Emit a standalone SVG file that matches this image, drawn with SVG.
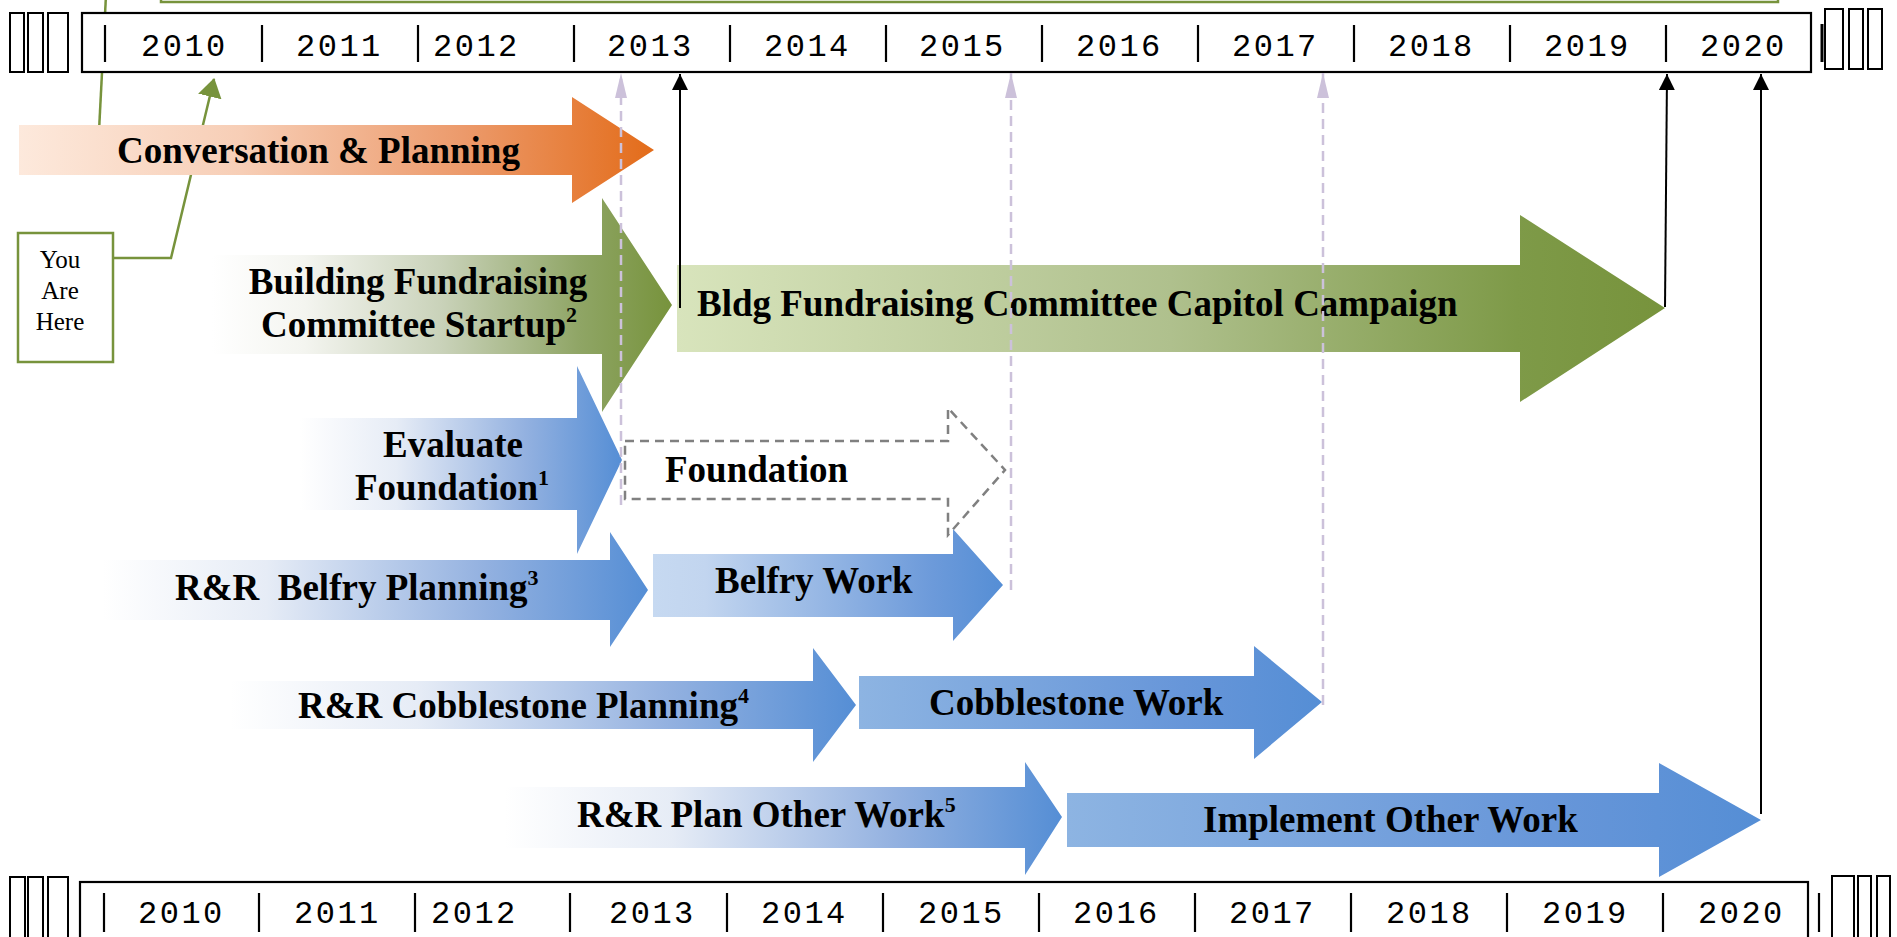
<svg xmlns="http://www.w3.org/2000/svg" width="1897" height="937" viewBox="0 0 1897 937">
<style>
.yr{font-family:"Liberation Mono","DejaVu Sans Mono",monospace;font-size:32px;letter-spacing:2.5px;fill:#000}
.tk{stroke:#000;stroke-width:2.2}
.box{fill:#fff;stroke:#000;stroke-width:2.2}
.sq{fill:#fff;stroke:#000;stroke-width:2}
.lbl{font-family:"Liberation Serif","Times New Roman",serif;font-weight:bold;font-size:37px;fill:#000}
.sup{font-size:22px}
.dash{stroke:#CCC1DA;stroke-width:2.5;stroke-dasharray:10 6;fill:none}
.blk{stroke:#000;stroke-width:2;fill:none}
.grn{stroke:#77933C;stroke-width:2.5;fill:none}
</style>
<defs>
<linearGradient id="gOr" x1="0" y1="0" x2="1" y2="0">
<stop offset="0" stop-color="#FDE9DC"/><stop offset="0.35" stop-color="#F7CEB6"/><stop offset="0.7" stop-color="#EC9A6B"/><stop offset="1" stop-color="#E36C1A"/>
</linearGradient>
<linearGradient id="gGr1" x1="0" y1="0" x2="1" y2="0">
<stop offset="0" stop-color="#FFFFFF"/><stop offset="0.2" stop-color="#F4F5F0"/><stop offset="0.5" stop-color="#C9D2B9"/><stop offset="0.8" stop-color="#8FA565"/><stop offset="1" stop-color="#77933C"/>
</linearGradient>
<linearGradient id="gGr2" x1="0" y1="0" x2="1" y2="0">
<stop offset="0" stop-color="#D8E4BC"/><stop offset="0.5" stop-color="#AFC08D"/><stop offset="0.85" stop-color="#7E9A48"/><stop offset="1" stop-color="#77933C"/>
</linearGradient>
<linearGradient id="gBl1" x1="0" y1="0" x2="1" y2="0">
<stop offset="0" stop-color="#FFFFFF"/><stop offset="0.3" stop-color="#E6ECF6"/><stop offset="0.7" stop-color="#93B1E0"/><stop offset="1" stop-color="#558ED5"/>
</linearGradient>
<linearGradient id="gBl2" x1="0" y1="0" x2="1" y2="0">
<stop offset="0" stop-color="#C6D9F1"/><stop offset="0.15" stop-color="#C2D5EF"/><stop offset="0.8" stop-color="#6C9ADA"/><stop offset="1" stop-color="#558ED5"/>
</linearGradient>
<linearGradient id="gBl3" x1="0" y1="0" x2="1" y2="0">
<stop offset="0" stop-color="#8DB4E2"/><stop offset="0.7" stop-color="#6796D9"/><stop offset="1" stop-color="#558ED5"/>
</linearGradient>
<marker id="mBlk" markerUnits="userSpaceOnUse" markerWidth="16" markerHeight="16" viewBox="0 0 16 16" refX="16" refY="8" orient="auto">
<path d="M0,0 L16,8 L0,16 Z" fill="#000"/>
</marker>
<marker id="mLav" markerUnits="userSpaceOnUse" markerWidth="25" markerHeight="12" viewBox="0 0 25 12" refX="25" refY="6" orient="auto">
<path d="M0,0 L25,6 L0,12 Z" fill="#CCC1DA"/>
</marker>
<marker id="mGrn" markerUnits="userSpaceOnUse" markerWidth="19" markerHeight="24" viewBox="0 0 19 24" refX="18" refY="12" orient="auto">
<path d="M0,0 L19,12 L0,24 Z" fill="#77933C"/>
</marker>
</defs>
<rect width="1897" height="937" fill="#fff"/>

<g id="connectors-back">
<rect x="161" y="-30" width="1617" height="32" class="grn"/>
<line x1="97" y1="170" x2="106" y2="-5" class="grn"/>
<polyline points="113,258 171,258 214,79" class="grn" marker-end="url(#mGrn)"/>
</g>

<g id="timeline-top">
<rect x="10" y="13" width="14" height="59" class="sq"/>
<rect x="28" y="13" width="15" height="59" class="sq"/>
<rect x="48" y="13" width="20" height="59" class="sq"/>
<rect x="82" y="13" width="1729" height="59" class="box"/>
<g class="tk">
<line x1="105" y1="25" x2="105" y2="62"/><line x1="262" y1="25" x2="262" y2="62"/><line x1="418" y1="25" x2="418" y2="62"/><line x1="574" y1="25" x2="574" y2="62"/><line x1="730" y1="25" x2="730" y2="62"/><line x1="886" y1="25" x2="886" y2="62"/><line x1="1042" y1="25" x2="1042" y2="62"/><line x1="1198" y1="25" x2="1198" y2="62"/><line x1="1354" y1="25" x2="1354" y2="62"/><line x1="1510" y1="25" x2="1510" y2="62"/><line x1="1666" y1="25" x2="1666" y2="62"/>
<line x1="1822" y1="24" x2="1822" y2="62" stroke-width="3"/>
</g>
<text class="yr" y="56"><tspan x="141">2010</tspan><tspan x="296">2011</tspan><tspan x="433">2012</tspan><tspan x="607">2013</tspan><tspan x="764">2014</tspan><tspan x="919">2015</tspan><tspan x="1076">2016</tspan><tspan x="1232">2017</tspan><tspan x="1388">2018</tspan><tspan x="1544">2019</tspan><tspan x="1700">2020</tspan></text>
<rect x="1825" y="9" width="18" height="60" class="sq"/>
<rect x="1849" y="9" width="14" height="60" class="sq"/>
<rect x="1868" y="9" width="14" height="60" class="sq"/>
</g>

<g id="timeline-bottom">
<rect x="10" y="877" width="15" height="70" class="sq"/>
<rect x="28" y="877" width="15" height="70" class="sq"/>
<rect x="48" y="877" width="20" height="70" class="sq"/>
<rect x="80" y="882" width="1728" height="70" class="box"/>
<g class="tk">
<line x1="104" y1="893" x2="104" y2="932"/><line x1="259" y1="893" x2="259" y2="932"/><line x1="415" y1="893" x2="415" y2="932"/><line x1="570" y1="893" x2="570" y2="932"/><line x1="727" y1="893" x2="727" y2="932"/><line x1="883" y1="893" x2="883" y2="932"/><line x1="1039" y1="893" x2="1039" y2="932"/><line x1="1195" y1="893" x2="1195" y2="932"/><line x1="1351" y1="893" x2="1351" y2="932"/><line x1="1507" y1="893" x2="1507" y2="932"/><line x1="1663" y1="893" x2="1663" y2="932"/>
<line x1="1819" y1="893" x2="1819" y2="932"/>
</g>
<text class="yr" y="923"><tspan x="138">2010</tspan><tspan x="294">2011</tspan><tspan x="431">2012</tspan><tspan x="609">2013</tspan><tspan x="761">2014</tspan><tspan x="918">2015</tspan><tspan x="1073">2016</tspan><tspan x="1229">2017</tspan><tspan x="1386">2018</tspan><tspan x="1542">2019</tspan><tspan x="1698">2020</tspan></text>
<rect x="1832" y="876" width="22" height="70" class="sq"/>
<rect x="1858" y="876" width="13" height="70" class="sq"/>
<rect x="1877" y="876" width="13" height="70" class="sq"/>
</g>

<g id="you-are-here">
<rect x="18" y="233" width="95" height="129" fill="#fff" stroke="#77933C" stroke-width="2.5"/>
<text font-family="Liberation Serif,'Times New Roman',serif" font-size="25" text-anchor="middle" fill="#000"><tspan x="60" y="268">You</tspan><tspan x="60" y="299">Are</tspan><tspan x="60" y="330">Here</tspan></text>
</g>

<g id="conversation-planning">
<path d="M19,125 H572 V97 L654,150 L572,203 V175 H19 Z" fill="url(#gOr)"/>
<text class="lbl" x="117" y="163">Conversation &amp; Planning</text>
</g>

<g id="fundraising-startup">
<path d="M212,255 H602 V198 L672,305 L602,412 V354 H212 Z" fill="url(#gGr1)"/>
<text class="lbl" text-anchor="middle"><tspan x="418" y="294">Building Fundraising</tspan><tspan x="419" y="337">Committee Startup<tspan class="sup" dy="-15">2</tspan></tspan></text>
</g>

<g id="capitol-campaign">
<path d="M677,265 H1520 V215 L1665,308 L1520,402 V352 H677 Z" fill="url(#gGr2)"/>
<text class="lbl" x="697" y="316">Bldg Fundraising Committee Capitol Campaign</text>
</g>

<g id="evaluate-foundation">
<path d="M300,418 H577 V366 L622,460 L577,554 V510 H300 Z" fill="url(#gBl1)"/>
<text class="lbl" text-anchor="middle"><tspan x="453" y="457">Evaluate</tspan><tspan x="452" y="500">Foundation<tspan class="sup" dy="-15">1</tspan></tspan></text>
</g>

<g id="foundation">
<path d="M625,441 H948 V408 L1005,470 L948,535 V499 H625 Z" fill="#fff" stroke="#808080" stroke-width="2.5" stroke-dasharray="9 6"/>
<text class="lbl" x="665" y="482">Foundation</text>
</g>

<g id="belfry-planning">
<path d="M103,560 H610 V532 L648,590 L610,647 V620 H103 Z" fill="url(#gBl1)"/>
<text class="lbl" x="175" y="600" xml:space="preserve">R&amp;R  Belfry Planning<tspan class="sup" dy="-15">3</tspan></text>
</g>

<g id="belfry-work">
<path d="M653,554 H953 V529 L1003,585 L953,641 V617 H653 Z" fill="url(#gBl2)"/>
<text class="lbl" x="715" y="593">Belfry Work</text>
</g>

<g id="cobblestone-planning">
<path d="M230,681 H813 V648 L856,705 L813,762 V729 H230 Z" fill="url(#gBl1)"/>
<text class="lbl" x="298" y="718">R&amp;R Cobblestone Planning<tspan class="sup" dy="-15">4</tspan></text>
</g>

<g id="cobblestone-work">
<path d="M859,676 H1254 V646 L1322,702 L1254,759 V729 H859 Z" fill="url(#gBl3)"/>
<text class="lbl" x="929" y="715">Cobblestone Work</text>
</g>

<g id="plan-other-work">
<path d="M505,787 H1025 V762 L1062,817 L1025,875 V848 H505 Z" fill="url(#gBl1)"/>
<text class="lbl" x="577" y="827">R&amp;R Plan Other Work<tspan class="sup" dy="-15">5</tspan></text>
</g>

<g id="implement-other-work">
<path d="M1067,793 H1659 V763 L1761,820 L1659,877 V847 H1067 Z" fill="url(#gBl3)"/>
<text class="lbl" x="1203" y="832">Implement Other Work</text>
</g>

<g id="connectors">
<line x1="621" y1="505" x2="621" y2="73" class="dash" marker-end="url(#mLav)"/>
<line x1="1011" y1="590" x2="1011" y2="73" class="dash" marker-end="url(#mLav)"/>
<line x1="1323" y1="705" x2="1323" y2="73" class="dash" marker-end="url(#mLav)"/>
<line x1="680" y1="308" x2="680" y2="74" class="blk" marker-end="url(#mBlk)"/>
<line x1="1665" y1="307" x2="1667" y2="74" class="blk" marker-end="url(#mBlk)"/>
<line x1="1761" y1="814" x2="1761" y2="74" class="blk" marker-end="url(#mBlk)"/>
</g>
</svg>
